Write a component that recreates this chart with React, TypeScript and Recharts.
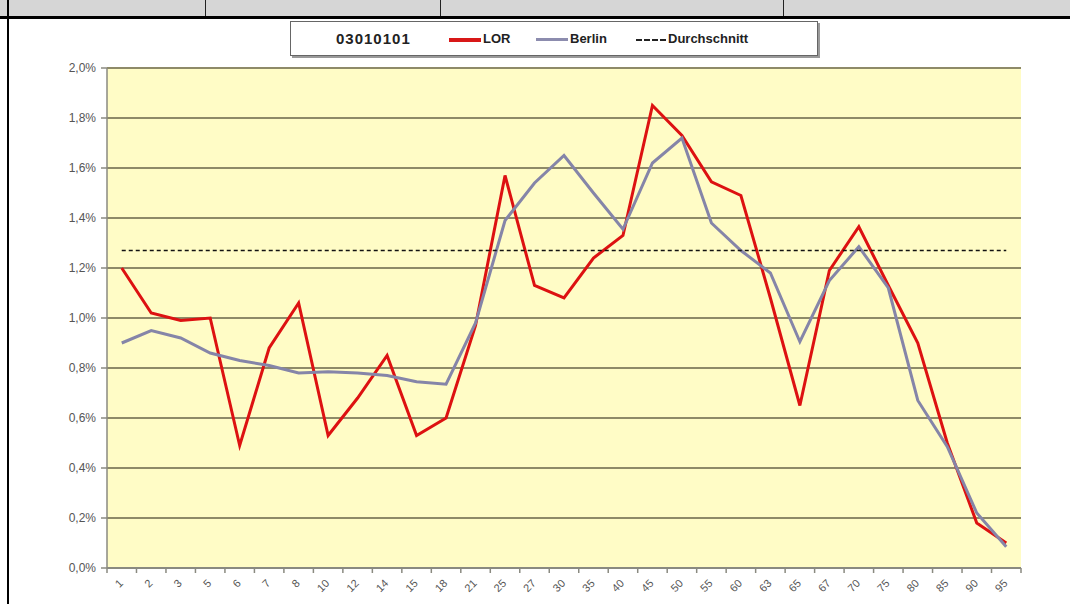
import { CartesianGrid, Line, LineChart, ReferenceLine, XAxis, YAxis } from "recharts";

// age groups on the x axis
const ageGroups = [
  "1", "2", "3", "5", "6", "7", "8", "10", "12", "14", "15", "18", "21", "25", "27", "30",
  "35", "40", "45", "50", "55", "60", "63", "65", "67", "70", "75", "80", "85", "90", "95",
];

// share in percent
const lorShare = [
  1.2, 1.02, 0.99, 1.0, 0.49, 0.88, 1.06, 0.53, 0.68, 0.85, 0.53, 0.6, 0.97, 1.57, 1.13, 1.08,
  1.24, 1.33, 1.85, 1.73, 1.545, 1.49, 1.08, 0.65, 1.19, 1.365, 1.13, 0.9, 0.5, 0.18, 0.1,
];
const berlinShare = [
  0.9, 0.95, 0.92, 0.86, 0.83, 0.81, 0.78, 0.785, 0.78, 0.77, 0.745, 0.735, 0.98, 1.39, 1.54, 1.65,
  1.5, 1.355, 1.62, 1.72, 1.38, 1.27, 1.18, 0.905, 1.15, 1.285, 1.12, 0.67, 0.485, 0.22, 0.085,
];
const averageShare = 1.27;

const yTicks = [0, 0.2, 0.4, 0.6, 0.8, 1.0, 1.2, 1.4, 1.6, 1.8, 2.0];

const data = ageGroups.map((age, i) => ({
  age,
  lor: lorShare[i],
  berlin: berlinShare[i],
}));

const CHART_W = 1070;
const CHART_H = 604;
const MARGIN = { top: 68, right: 49, left: 47, bottom: 6 };
const Y_AXIS_W = 60;
const BAND = (CHART_W - MARGIN.left - MARGIN.right - Y_AXIS_W) / ageGroups.length;

const AXIS_GREY = "#8a8a80";
const LABEL_GREY = "#555";

function AgeTick(props: any) {
  const { x, y, payload, index } = props;
  const top = y - 7;
  const half = BAND / 2;
  const last = index === ageGroups.length - 1;
  return (
    <g>
      <line x1={x - half} x2={x - half} y1={top} y2={top + 5} stroke={AXIS_GREY} strokeWidth={1.5} />
      {last ? (
        <line x1={x + half} x2={x + half} y1={top} y2={top + 5} stroke={AXIS_GREY} strokeWidth={1.5} />
      ) : null}
      <text
        x={x + 2}
        y={y + 9}
        transform={`rotate(-45, ${x + 2}, ${y + 9})`}
        textAnchor="end"
        fontSize={11}
        fill={LABEL_GREY}
      >
        {payload.value}
      </text>
    </g>
  );
}

function LegendBox() {
  const text = { position: "absolute" as const, top: 9, fontSize: 13, fontWeight: 700, color: "#222" };
  return (
    <div
      style={{
        position: "absolute",
        left: 290,
        top: 21,
        width: 526,
        height: 33,
        border: "1px solid #666",
        boxShadow: "2px 2px 0 #9a9a9a",
        background: "#fff",
        fontFamily: "'Liberation Sans Narrow', 'Liberation Sans', Arial, sans-serif",
      }}
    >
      <span style={{ ...text, left: 45, top: 8, fontSize: 15, letterSpacing: 1 }}>03010101</span>
      <span style={{ position: "absolute", left: 158, top: 16, width: 32, height: 4, background: "#d81818" }} />
      <span style={{ ...text, left: 192 }}>LOR</span>
      <span style={{ position: "absolute", left: 245, top: 16, width: 32, height: 3, background: "#8c8cae" }} />
      <span style={{ ...text, left: 279 }}>Berlin</span>
      <span style={{ position: "absolute", left: 345, top: 17, width: 30, borderTop: "2px dashed #222" }} />
      <span style={{ ...text, left: 377 }}>Durchschnitt</span>
    </div>
  );
}

export default function App() {
  return (
    <div
      style={{
        position: "absolute",
        left: 0,
        top: 0,
        width: CHART_W,
        height: CHART_H,
        background: "#fff",
        overflow: "hidden",
        fontFamily: "'Liberation Sans', Arial, sans-serif",
      }}
    >
      {/* table frame around the chart */}
      <div style={{ position: "absolute", left: 0, top: 0, width: CHART_W, height: 16, background: "#d6d6d6" }} />
      {[205, 440, 783].map((left) => (
        <div key={left} style={{ position: "absolute", left, top: 0, width: 1, height: 16, background: "#222" }} />
      ))}
      <div style={{ position: "absolute", left: 0, top: 16, width: CHART_W, height: 3, background: "#000" }} />
      <div style={{ position: "absolute", left: 7, top: 0, width: 2, height: CHART_H, background: "#000" }} />

      <div style={{ position: "absolute", left: 0, top: 0 }}>
        <LineChart width={CHART_W} height={CHART_H} data={data} margin={MARGIN}>
          <CartesianGrid
            vertical={false}
            stroke="#8e8a68"
            strokeWidth={2}
            fill="#fffcc6"
            fillOpacity={1}
          />
          <XAxis
            dataKey="age"
            height={30}
            interval={0}
            padding={{ left: BAND / 2, right: BAND / 2 }}
            tickLine={false}
            tickSize={5}
            tickMargin={2}
            axisLine={{ stroke: AXIS_GREY, strokeWidth: 2 }}
            tick={<AgeTick />}
          />
          <YAxis
            width={Y_AXIS_W}
            domain={[0, 2]}
            ticks={yTicks}
            interval={0}
            tickSize={6}
            tickMargin={5}
            axisLine={{ stroke: AXIS_GREY, strokeWidth: 1.5 }}
            tickLine={{ stroke: AXIS_GREY, strokeWidth: 1.5 }}
            tick={{ fill: LABEL_GREY, fontSize: 12 }}
            tickFormatter={(v: number) => `${v.toFixed(1).replace(".", ",")}%`}
          />
          <YAxis
            yAxisId="frame"
            orientation="right"
            width={0}
            domain={[0, 2]}
            tick={false}
            tickLine={false}
            axisLine={{ stroke: "#b0ad95", strokeWidth: 1.5 }}
          />
          <Line
            type="linear"
            dataKey="lor"
            stroke="#dd1111"
            strokeWidth={3}
            dot={false}
            isAnimationActive={false}
          />
          <Line
            type="linear"
            dataKey="berlin"
            stroke="#8585a8"
            strokeWidth={3}
            dot={false}
            isAnimationActive={false}
          />
          <ReferenceLine
            segment={[
              { x: ageGroups[0], y: averageShare },
              { x: ageGroups[ageGroups.length - 1], y: averageShare },
            ]}
            stroke="#111"
            strokeWidth={1.5}
            strokeDasharray="4 3"
          />
        </LineChart>
      </div>

      <LegendBox />
    </div>
  );
}
